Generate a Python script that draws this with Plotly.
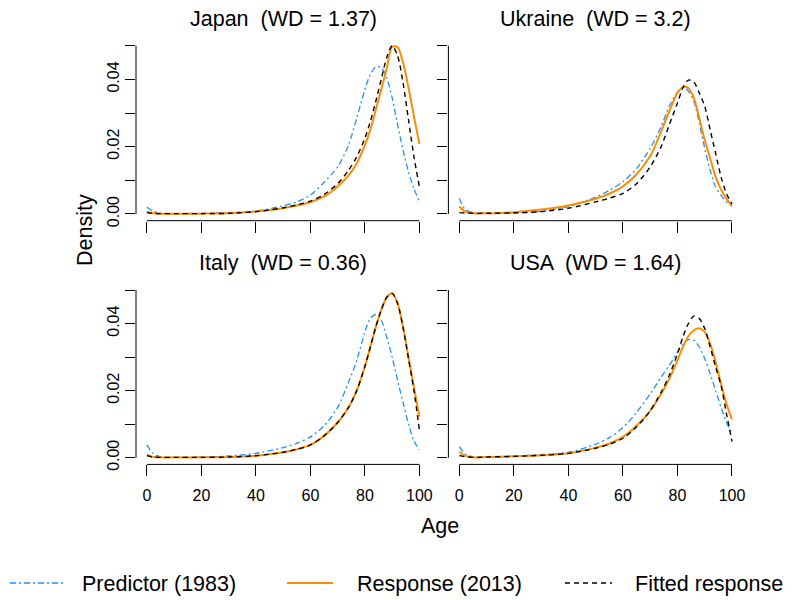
import plotly.graph_objects as go

ages = [0, 2, 5, 10, 20, 30, 40, 50, 55, 60, 65, 70, 74, 77, 80, 82, 84, 86, 88, 90, 92, 94, 96, 98, 100]

japan_pred = [0.0020, 0.0010, 0.0002, 0.0001, 0.0002, 0.0004, 0.0009, 0.0024, 0.0036, 0.0056, 0.0094, 0.0140, 0.0205, 0.0285, 0.0370, 0.0415, 0.0437, 0.0435, 0.0405, 0.0345, 0.0265, 0.0190, 0.0125, 0.0075, 0.0037]
japan_resp = [0.0007, 0.0003, 0.0001, 0.0001, 0.0001, 0.0002, 0.0007, 0.0017, 0.0025, 0.0035, 0.0052, 0.0082, 0.0115, 0.0150, 0.0205, 0.0250, 0.0310, 0.0370, 0.0432, 0.0497, 0.0496, 0.0450, 0.0375, 0.0290, 0.0208]
japan_fit = [0.0004, 0.0002, 0.0001, 0.0001, 0.0001, 0.0002, 0.0007, 0.0018, 0.0027, 0.0038, 0.0058, 0.0090, 0.0130, 0.0170, 0.0225, 0.0275, 0.0335, 0.0400, 0.0465, 0.0500, 0.0470, 0.0390, 0.0280, 0.0170, 0.0081]

ukraine_pred = [0.0047, 0.0015, 0.0004, 0.0002, 0.0003, 0.0008, 0.0022, 0.0050, 0.0070, 0.0096, 0.0135, 0.0195, 0.0260, 0.0320, 0.0362, 0.0376, 0.0365, 0.0335, 0.0270, 0.0195, 0.0130, 0.0080, 0.0055, 0.0035, 0.0024]
ukraine_resp = [0.0022, 0.0008, 0.0002, 0.0002, 0.0005, 0.0013, 0.0025, 0.0045, 0.0060, 0.0082, 0.0118, 0.0172, 0.0245, 0.0305, 0.0360, 0.0377, 0.0374, 0.0345, 0.0285, 0.0220, 0.0165, 0.0110, 0.0072, 0.0045, 0.0024]
ukraine_fit = [0.0004, 0.0003, 0.0002, 0.0002, 0.0003, 0.0007, 0.0017, 0.0036, 0.0047, 0.0061, 0.0090, 0.0140, 0.0200, 0.0265, 0.0330, 0.0375, 0.0398, 0.0392, 0.0360, 0.0320, 0.0250, 0.0180, 0.0110, 0.0060, 0.0030]

italy_pred = [0.0038, 0.0015, 0.0002, 0.0001, 0.0002, 0.0005, 0.0013, 0.0030, 0.0043, 0.0062, 0.0095, 0.0150, 0.0225, 0.0290, 0.0375, 0.0415, 0.0427, 0.0410, 0.0360, 0.0300, 0.0230, 0.0165, 0.0100, 0.0050, 0.0023]
italy_resp = [0.0008, 0.0003, 0.0001, 0.0001, 0.0001, 0.0002, 0.0006, 0.0016, 0.0025, 0.0038, 0.0065, 0.0105, 0.0150, 0.0200, 0.0272, 0.0330, 0.0390, 0.0440, 0.0478, 0.0490, 0.0460, 0.0390, 0.0300, 0.0210, 0.0122]
italy_fit = [0.0006, 0.0002, 0.0001, 0.0001, 0.0001, 0.0002, 0.0006, 0.0016, 0.0025, 0.0038, 0.0065, 0.0105, 0.0150, 0.0200, 0.0272, 0.0330, 0.0390, 0.0440, 0.0478, 0.0490, 0.0460, 0.0388, 0.0295, 0.0200, 0.0082]

usa_pred = [0.0033, 0.0012, 0.0002, 0.0002, 0.0005, 0.0009, 0.0016, 0.0040, 0.0060, 0.0090, 0.0135, 0.0190, 0.0240, 0.0275, 0.0315, 0.0340, 0.0352, 0.0350, 0.0330, 0.0295, 0.0250, 0.0200, 0.0150, 0.0105, 0.0072]
usa_resp = [0.0018, 0.0006, 0.0001, 0.0002, 0.0004, 0.0007, 0.0013, 0.0030, 0.0042, 0.0062, 0.0095, 0.0140, 0.0190, 0.0235, 0.0290, 0.0330, 0.0362, 0.0380, 0.0386, 0.0375, 0.0340, 0.0285, 0.0220, 0.0160, 0.0114]
usa_fit = [0.0006, 0.0003, 0.0001, 0.0002, 0.0004, 0.0007, 0.0013, 0.0028, 0.0040, 0.0058, 0.0092, 0.0140, 0.0195, 0.0245, 0.0310, 0.0360, 0.0400, 0.0422, 0.0415, 0.0385, 0.0330, 0.0270, 0.0215, 0.0130, 0.0048]

titles = ["Japan \u00a0(WD = 1.37)", "Ukraine \u00a0(WD = 3.2)", "Italy \u00a0(WD = 0.36)", "USA \u00a0(WD = 1.64)"]
legend_labels = ["Predictor (1983)", "Response (2013)", "Fitted response"]
x_ticks = [0, 20, 40, 60, 80, 100]
y_ticks = [0, 0.01, 0.02, 0.03, 0.04, 0.05]
y_ticklabels = ["0.00", "", "0.02", "", "0.04", ""]

panels = [
    (japan_pred, japan_resp, japan_fit),
    (ukraine_pred, ukraine_resp, ukraine_fit),
    (italy_pred, italy_resp, italy_fit),
    (usa_pred, usa_resp, usa_fit),
]

BLUE = "#1E90FF"
ORANGE = "#FF8C00"
FONT = "Liberation Sans, Arial, Helvetica, sans-serif"
W, H = 802, 600
BIG = 21.5

styles = [
    dict(color=BLUE, width=1.3, dash="6px,3px,2px,3px"),
    dict(color=ORANGE, width=2.0, dash="solid"),
    dict(color="black", width=1.4, dash="5px,4px"),
]

fig = go.Figure()

# pixel geometry of the plot regions
xdom_px = [(136, 430.3), (448.4, 742.9)]
ydom_px = [(39, 220.7), (283.3, 464.4)]

for i, series in enumerate(panels):
    col = i % 2
    row = i // 2
    sfx = "" if i == 0 else str(i + 1)
    for s, st in zip(series, styles):
        fig.add_trace(go.Scatter(
            x=ages, y=s, mode="lines", line=dict(shape="spline", smoothing=0.8, **st),
            xaxis="x" + sfx, yaxis="y" + sfx, showlegend=False, hoverinfo="skip"))
    xd = [xdom_px[col][0] / W, xdom_px[col][1] / W]
    yd = [1 - ydom_px[row][1] / H, 1 - ydom_px[row][0] / H]
    fig.layout["xaxis" + sfx] = dict(
        domain=xd, range=[-4, 104], anchor="y" + sfx, showgrid=False, zeroline=False,
        showline=False, ticks="outside", ticklen=11, tickwidth=1, tickcolor="black",
        tickvals=x_ticks, showticklabels=(row == 1), automargin=False, ticklabelstandoff=5,
        tickfont=dict(family=FONT, size=16, color="black"))
    fig.layout["yaxis" + sfx] = dict(
        domain=yd, range=[-0.002, 0.052], anchor="x" + sfx, showgrid=False, zeroline=False,
        showline=False, ticks="outside", ticklen=10, tickwidth=1, tickcolor="black",
        tickvals=y_ticks, ticktext=y_ticklabels, showticklabels=(col == 0), tickangle=-90,
        automargin=False, tickfont=dict(family=FONT, size=16, color="black"))
    # R-style axis lines spanning first to last tick
    fig.add_shape(type="line", xref="x" + sfx, yref="y" + sfx + " domain",
                  x0=x_ticks[0], x1=x_ticks[-1], y0=0, y1=0, line=dict(color="black", width=1))
    fig.add_shape(type="line", xref="x" + sfx + " domain", yref="y" + sfx,
                  x0=0, x1=0, y0=y_ticks[0], y1=y_ticks[-1], line=dict(color="black", width=1))
    fig.add_annotation(text=titles[i], xref="paper", yref="paper",
                       x=sum(xdom_px[col]) / 2 / W, y=1 - (19 if row == 0 else 263) / H,
                       showarrow=False, xanchor="center", yanchor="middle",
                       font=dict(family=FONT, size=BIG, color="black"))

fig.add_annotation(text="Density", xref="paper", yref="paper", x=85 / W, y=1 - 230 / H,
                   textangle=-90, showarrow=False, xanchor="center", yanchor="middle",
                   font=dict(family=FONT, size=BIG, color="black"))
fig.add_annotation(text="Age", xref="paper", yref="paper", x=440 / W, y=1 - 526 / H,
                   showarrow=False, xanchor="center", yanchor="middle",
                   font=dict(family=FONT, size=BIG, color="black"))

# legend
leg_y = 1 - 583 / H
leg_lines = [(10, 64), (287, 333), (565, 612)]
leg_text_x = [80, 355, 633]
for (x0, x1), tx, lab, st in zip(leg_lines, leg_text_x, legend_labels, styles):
    fig.add_shape(type="line", xref="paper", yref="paper", x0=x0 / W, x1=x1 / W,
                  y0=leg_y, y1=leg_y, line=st)
    fig.add_annotation(text=lab, xref="paper", yref="paper", x=tx / W, y=1 - 584 / H,
                       showarrow=False, xanchor="left", yanchor="middle",
                       font=dict(family=FONT, size=BIG, color="black"))

fig.update_layout(template="none", width=W, height=H, margin=dict(l=0, r=0, t=0, b=0),
                  plot_bgcolor="white", paper_bgcolor="white", showlegend=False)

fig.write_html("out.html", config={"displayModeBar": False},
               post_script="document.body.style.margin='0';document.body.style.overflow='hidden';")
